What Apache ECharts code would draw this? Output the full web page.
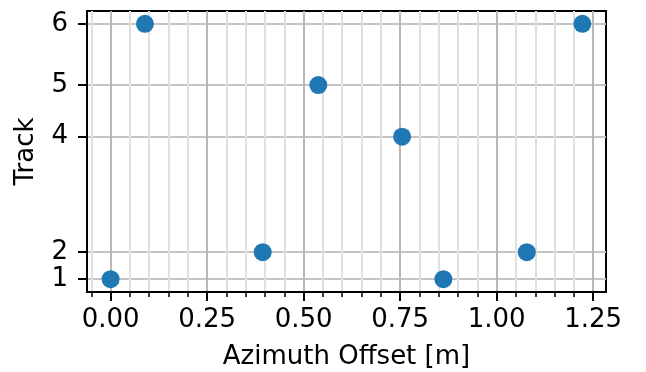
<!DOCTYPE html>
<html>
<head>
<meta charset="utf-8">
<script src="https://cdn.jsdelivr.net/npm/echarts@6/dist/echarts.min.js"></script>
<style>
  html, body { margin: 0; padding: 0; background: #fff; }
  #chart { width: 646px; height: 372px; }
</style>
</head>
<body>
<div id="chart"></div>
<script>
// track ids and where each one sits on the vertical axis
var trackIds = [1, 2, 4, 5, 6];
var trackPos = [1, 1.53, 3.79, 4.80, 6];

// measured points: azimuth offset [m] and track id
var azimuthOffset = [0.00, 0.089, 0.394, 0.538, 0.755, 0.862, 1.078, 1.222];
var pointTrack    = [1, 6, 2, 5, 4, 1, 2, 6];

// x axis ticks
var xMajorTicks = [0.00, 0.25, 0.50, 0.75, 1.00, 1.25];
var xMinorTicks = [-0.05, 0.05, 0.10, 0.15, 0.20, 0.30, 0.35, 0.40, 0.45, 0.55, 0.60,
                   0.65, 0.70, 0.80, 0.85, 0.90, 0.95, 1.05, 1.10, 1.15, 1.20];

var xMin = -0.0611, xMax = 1.2832;
var yMin = 0.75, yMax = 6.25;

function posOfTrack(t) {
    return trackPos[trackIds.indexOf(t)];
}

var points = [];
for (var i = 0; i < azimuthOffset.length; i++) {
    points.push([azimuthOffset[i], posOfTrack(pointTrack[i])]);
}

var font = 'DejaVu Sans';
var fs = 26;
var chart = echarts.init(document.getElementById('chart'));

var option = {
    animation: false,
    textStyle: { fontFamily: font },
    grid: {
        left: 87, right: 40, top: 11, bottom: 80,
        outerBoundsMode: 'none',
        show: true,
        borderColor: '#000',
        borderWidth: 2,
        backgroundColor: '#fff'
    },
    xAxis: [
        {
            // major ticks + labels
            type: 'value',
            min: xMin,
            max: xMax,
            name: 'Azimuth Offset [m]',
            nameLocation: 'middle',
            nameGap: 52,
            nameTextStyle: { fontFamily: font, fontSize: fs, color: '#000' },
            axisLine: { show: true, onZero: false, lineStyle: { color: '#000', width: 2 } },
            axisTick: { show: true, customValues: xMajorTicks, length: 9, lineStyle: { color: '#000', width: 2 } },
            axisLabel: {
                customValues: xMajorTicks,
                margin: 15,
                fontFamily: font,
                fontSize: fs,
                color: '#000',
                formatter: function (v) { return v.toFixed(2); }
            },
            splitLine: { show: true, lineStyle: { color: '#b8b8b8', width: 2 } },
            z: 3
        },
        {
            // minor ticks
            type: 'value',
            min: xMin,
            max: xMax,
            position: 'bottom',
            axisLine: { show: false },
            axisTick: { show: true, customValues: xMinorTicks, length: 5, lineStyle: { color: '#000', width: 1.5 } },
            axisLabel: { show: false, customValues: xMinorTicks },
            splitLine: { show: true, lineStyle: { color: '#e0e0e0', width: 2 } },
            z: 2
        }
    ],
    yAxis: {
        type: 'value',
        min: yMin,
        max: yMax,
        name: 'Track',
        nameLocation: 'middle',
        nameGap: 48,
        nameTextStyle: { fontFamily: font, fontSize: fs, color: '#000' },
        axisLine: { show: true, onZero: false, lineStyle: { color: '#000', width: 2 } },
        axisTick: { show: true, customValues: trackPos, length: 9, lineStyle: { color: '#000', width: 2 } },
        axisLabel: {
            customValues: trackPos,
            margin: 19,
            fontFamily: font,
            fontSize: fs,
            color: '#000',
            formatter: function (v) {
                for (var k = 0; k < trackPos.length; k++) {
                    if (Math.abs(trackPos[k] - v) < 1e-6) return String(trackIds[k]);
                }
                return '';
            }
        },
        splitLine: { show: true, lineStyle: { color: '#c4c4c4', width: 2 } }
    },
    series: [
        {
            type: 'scatter',
            xAxisIndex: 0,
            data: points,
            symbol: 'circle',
            symbolSize: 18,
            itemStyle: { color: '#1f77b4', opacity: 1 },
            z: 5
        }
    ]
};

chart.setOption(option);
</script>
</body>
</html>
